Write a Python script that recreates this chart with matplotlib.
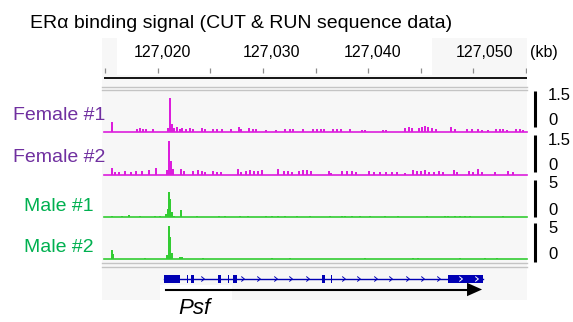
"""ERα CUT&RUN binding signal tracks around the Psf locus (IGV-style snapshot)."""

import matplotlib

matplotlib.use("Agg")
import matplotlib.pyplot as plt
from matplotlib.patches import Polygon, Rectangle

plt.rcParams["font.family"] = ["Liberation Sans", "DejaVu Sans"]

W, H = 573, 322
XMIN, XMAX = 127014.86, 127055.14  # visible window, kb

# ruler
ruler_ticks = [127015, 127020, 127025, 127030, 127035, 127040, 127045, 127050, 127055]
ruler_labels = ["127,020", "127,030", "127,040", "127,050"]
ruler_label_pos = [127020.4, 127030.85, 127040.4, 127051.05]

# tracks: bar positions (kb) and heights (signal)
female1_pos = [127015.62, 127018.00, 127018.29, 127018.57, 127018.86, 127019.52, 127020.95, 127021.14,
               127021.33, 127021.52, 127021.81, 127022.10, 127022.29, 127022.67, 127023.05, 127023.33,
               127024.19, 127024.48, 127025.24, 127025.62, 127026.10, 127026.95, 127027.71, 127027.90,
               127028.67, 127029.05, 127029.33, 127030.29, 127031.24, 127032.10, 127032.57, 127032.86,
               127033.81, 127034.76, 127035.14, 127035.52, 127035.81, 127036.67, 127037.05, 127037.43,
               127038.29, 127039.43, 127039.71, 127041.43, 127041.71, 127043.52, 127043.90, 127044.19,
               127044.86, 127045.14, 127045.43, 127045.71, 127046.10, 127046.48, 127047.90, 127048.29,
               127049.43, 127049.90, 127050.48, 127050.86, 127051.43, 127052.19, 127052.57, 127052.86,
               127053.24, 127054.10, 127054.48, 127054.76]
female1_val = [0.38, 0.11, 0.15, 0.11, 0.11, 0.11, 0.15, 1.28,
               0.30, 0.15, 0.19, 0.11, 0.15, 0.11, 0.15, 0.11,
               0.15, 0.11, 0.11, 0.11, 0.11, 0.11, 0.19, 0.11,
               0.15, 0.11, 0.11, 0.08, 0.08, 0.11, 0.11, 0.11,
               0.11, 0.11, 0.11, 0.11, 0.11, 0.11, 0.11, 0.11,
               0.11, 0.08, 0.08, 0.08, 0.08, 0.15, 0.19, 0.15,
               0.15, 0.19, 0.22, 0.19, 0.15, 0.11, 0.19, 0.11,
               0.11, 0.11, 0.11, 0.08, 0.08, 0.11, 0.11, 0.11,
               0.08, 0.11, 0.11, 0.08]

female2_pos = [127015.62, 127015.90, 127016.29, 127016.86, 127017.43, 127017.90, 127018.48, 127019.14,
               127019.81, 127020.86, 127021.05, 127021.24, 127021.43, 127022.19, 127022.48, 127023.33,
               127023.81, 127024.19, 127024.48, 127025.24, 127025.62, 127026.00, 127027.62, 127027.90,
               127028.38, 127028.76, 127029.14, 127029.52, 127029.90, 127031.43, 127032.00, 127032.38,
               127032.76, 127033.43, 127033.81, 127034.19, 127034.57, 127036.29, 127036.48, 127037.52,
               127038.00, 127038.48, 127038.86, 127040.10, 127040.57, 127041.14, 127041.71, 127042.29,
               127042.76, 127043.52, 127044.29, 127044.67, 127045.05, 127045.43, 127045.81, 127046.29,
               127046.76, 127047.14, 127048.19, 127048.48, 127049.62, 127050.00, 127050.48, 127050.86,
               127052.10, 127053.33, 127053.81]
female2_val = [0.26, 0.11, 0.11, 0.15, 0.11, 0.15, 0.15, 0.19,
               0.26, 0.19, 1.28, 0.52, 0.22, 0.22, 0.15, 0.15,
               0.19, 0.15, 0.11, 0.15, 0.11, 0.11, 0.22, 0.11,
               0.15, 0.19, 0.15, 0.15, 0.19, 0.22, 0.15, 0.15,
               0.11, 0.15, 0.19, 0.19, 0.15, 0.15, 0.08, 0.15,
               0.15, 0.15, 0.11, 0.15, 0.11, 0.11, 0.11, 0.11,
               0.11, 0.08, 0.19, 0.15, 0.15, 0.19, 0.11, 0.11,
               0.15, 0.11, 0.19, 0.11, 0.15, 0.11, 0.22, 0.11,
               0.11, 0.15, 0.11]

male1_pos = [127015.62, 127016.57, 127017.24, 127018.29, 127019.71, 127020.19, 127020.76, 127020.95,
             127021.05, 127021.14, 127021.33, 127021.52, 127022.19, 127023.71, 127025.81, 127026.38,
             127027.81, 127028.57, 127030.29, 127030.86, 127031.43, 127032.10, 127033.24, 127034.48,
             127036.38, 127037.52, 127037.81, 127038.48, 127039.24, 127040.19, 127041.62, 127042.86,
             127045.62, 127047.33, 127047.62, 127048.29, 127048.76, 127049.24, 127049.71, 127052.86]
male1_val = [0.13, 0.13, 0.26, 0.13, 0.13, 0.13, 0.38, 1.0,
             3.2, 2.3, 0.64, 0.13, 0.9, 0.13, 0.13, 0.13,
             0.13, 0.13, 0.13, 0.13, 0.13, 0.13, 0.13, 0.13,
             0.13, 0.13, 0.13, 0.13, 0.13, 0.13, 0.13, 0.13,
             0.13, 0.13, 0.13, 0.13, 0.13, 0.13, 0.13, 0.13]

male2_pos = [127015.62, 127015.71, 127018.76, 127020.86, 127021.05, 127021.14, 127021.33, 127022.10,
             127022.29, 127024.29, 127030.86, 127032.57, 127039.71, 127044.29, 127044.76, 127048.76,
             127051.14, 127052.29]
male2_val = [1.15, 0.64, 0.13, 0.5, 4.2, 2.8, 0.77, 0.26,
             0.26, 0.13, 0.13, 0.13, 0.13, 0.13, 0.13, 0.13,
             0.13, 0.13]

track_names = ["Female #1", "Female #2", "Male #1", "Male #2"]
track_max = [1.5, 1.5, 5, 5]
track_max_labels = ["1.5", "1.5", "5", "5"]

# gene model (Psf), kb
gene_start, gene_end = 127020.57, 127050.95
exon_starts = [127020.57, 127022.76, 127023.14, 127025.71, 127026.67, 127027.14, 127035.62, 127036.48, 127047.62]
exon_ends = [127022.10, 127022.90, 127023.43, 127026.00, 127026.81, 127027.52, 127035.90, 127036.57, 127050.95]
chevrons = [127024.29, 127028.10, 127029.62, 127031.24, 127032.67, 127034.29, 127037.71,
            127039.14, 127040.76, 127042.19, 127043.81, 127045.24, 127046.76, 127048.86, 127050.38]

PURPLE = "#7030A0"
GREEN = "#00B050"
MAGENTA = "#DC1EDC"
SIGNAL_GREEN = "#33CC33"
GENE_BLUE = "#0000B4"
PANEL = "#F7F7F7"
LINE_GRAY = "#C4C4C4"

fig = plt.figure(figsize=(W / 100, H / 100), dpi=100, facecolor="white")


def px_axes(left, top, right, bottom, zorder=1):
    ax = fig.add_axes([left / W, 1 - bottom / H, (right - left) / W, (bottom - top) / H], zorder=zorder)
    ax.set_facecolor("none")
    ax.set_axis_off()
    return ax


# background / decoration layer in pixel coordinates
deco = px_axes(0, 0, W, H, zorder=0)
deco.set_xlim(0, W)
deco.set_ylim(H, 0)
deco.add_patch(Rectangle((102, 38), 425, 262, color=PANEL, lw=0))
deco.add_patch(Rectangle((117, 38), 315, 37, color="white", lw=0))
deco.add_patch(Rectangle((160, 285), 72, 15, color="white", lw=0))
for y in (87, 90, 263, 267):
    deco.plot([102, 527], [y, y], color=LINE_GRAY, lw=1)
deco.text(30, 28, "ERα binding signal (CUT & RUN sequence data)", fontsize=14, va="baseline", ha="left")
deco.text(530, 57, "(kb)", fontsize=11.5, va="baseline", ha="left")

name_colors = [PURPLE, PURPLE, GREEN, GREEN]
name_baselines = [120, 162, 211, 252]
for name, color, yb in zip(track_names, name_colors, name_baselines):
    deco.text(59, yb, name, fontsize=14, color=color, ha="center", va="baseline")

scale_bars = [(91, 127), (135, 172), (180, 217), (223, 262)]
max_baselines = [100, 145, 188, 233]
zero_baselines = [125, 170, 215, 259]
for (y0, y1), lab, ytop, yzero in zip(scale_bars, track_max_labels, max_baselines, zero_baselines):
    deco.plot([535, 535], [y0, y1], color="black", lw=2.2, solid_capstyle="butt")
    deco.text(548, ytop, lab, fontsize=12, va="baseline", ha="left")
    deco.text(548, yzero, "0", fontsize=12, va="baseline", ha="left")

# ruler
ruler = px_axes(104, 20, 527, 80)
ruler.set_xlim(XMIN, XMAX)
ruler.set_ylim(80, 20)
ruler.vlines(ruler_ticks, 68, 73, color="#8C8C8C", lw=0.9)
ruler.hlines(77.5, XMIN, XMAX, color="black", lw=1.3)
for lab, x in zip(ruler_labels, ruler_label_pos):
    ruler.text(x, 57, lab, fontsize=11.5, ha="center", va="baseline")

# signal tracks
track_boxes = [(92, 132), (135, 175), (178, 217), (220, 259)]
track_data = [(female1_pos, female1_val), (female2_pos, female2_val),
              (male1_pos, male1_val), (male2_pos, male2_val)]
track_colors = [MAGENTA, MAGENTA, SIGNAL_GREEN, SIGNAL_GREEN]
for (top, bottom), (pos, val), color, ymax in zip(track_boxes, track_data, track_colors, track_max):
    ax = px_axes(104, top, 527, bottom)
    ax.set_xlim(XMIN, XMAX)
    ax.set_ylim(0, ymax)
    ax.bar(pos, val, width=0.16, color=color, lw=0, align="center")
    ax.axhline(0, color=color, lw=1.2, clip_on=False)

# gene track
gene = px_axes(104, 268, 527, 300)
gene.set_xlim(XMIN, XMAX)
gene.set_ylim(300, 268)
gene.plot([gene_start, gene_end], [279, 279], color=GENE_BLUE, lw=1)
for s, e in zip(exon_starts, exon_ends):
    gene.add_patch(Rectangle((s, 275), e - s, 8, color=GENE_BLUE, lw=0))
dx = 0.13
for c in chevrons:
    col = "white" if c > exon_starts[-1] else GENE_BLUE
    gene.plot([c - dx, c + dx, c - dx], [276.8, 279, 281.2], color=col, lw=0.7, zorder=3)
gene.plot([127020.76, 127049.5], [289.5, 289.5], color="black", lw=1.5)
gene.add_patch(Polygon([(127049.43, 282.8), (127050.86, 289.5), (127049.43, 296.2)],
                       closed=True, color="black", lw=0, clip_on=False))
deco.text(178, 314, "Psf", fontsize=16, style="italic", ha="left", va="baseline")

fig.savefig("out.png", dpi=100, facecolor="white")
